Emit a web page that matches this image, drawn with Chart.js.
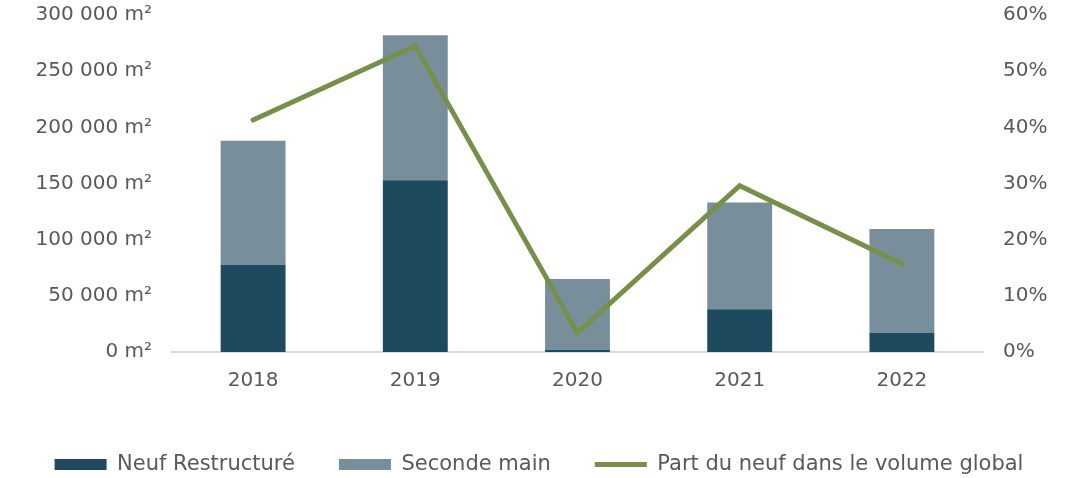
<!DOCTYPE html>
<html>
<head>
<meta charset="utf-8">
<script src="https://cdn.jsdelivr.net/npm/chart.js@4"></script>
<style>
  html, body { margin: 0; padding: 0; background: #fff; }
  #wrap { width: 1078px; height: 478px; }
</style>
</head>
<body>
<div id="wrap"><canvas id="chart"></canvas></div>
<script>
// données
const years = ["2018", "2019", "2020", "2021", "2022"];
const neufRestructure = [77500, 153000, 2000, 38000, 17000];
const secondeMain = [110500, 129000, 63000, 95000, 92500];
const partNeuf = [41.3, 54.5, 3.4, 29.6, 15.7];

const grey = "#595959";
const font = { family: "DejaVu Sans", size: 20 };
const legendFont = { family: "DejaVu Sans", size: 21 };

function fmtM2(v) {
  return String(v).replace(/\B(?=(\d{3})+(?!\d))/g, " ") + " m²";
}

// axe vertical : largeur fixe, pas de marge auto en haut
function fixY(width) {
  return (s) => {
    s.width = width;
    s.paddingTop = 0;
    s.paddingBottom = 0;
  };
}

new Chart(document.getElementById("chart"), {
  data: {
    labels: years,
    datasets: [
      {
        type: "bar",
        label: "Neuf Restructuré",
        data: neufRestructure,
        backgroundColor: "#1d4a5e",
        borderWidth: 0,
        pointStyle: "rect",
        yAxisID: "y",
        order: 1,
        barPercentage: 0.4,
        categoryPercentage: 1,
      },
      {
        type: "bar",
        label: "Seconde main",
        data: secondeMain,
        backgroundColor: "#788f9b",
        borderWidth: 0,
        pointStyle: "rect",
        yAxisID: "y",
        order: 1,
        barPercentage: 0.4,
        categoryPercentage: 1,
      },
      {
        type: "line",
        label: "Part du neuf dans le volume global",
        data: partNeuf,
        borderColor: "#76904a",
        backgroundColor: "#76904a",
        borderWidth: 5,
        borderCapStyle: "round",
        pointRadius: 0,
        pointStyle: "line",
        tension: 0,
        yAxisID: "y1",
        order: 0,
      },
    ],
  },
  options: {
    responsive: true,
    maintainAspectRatio: false,
    animation: false,
    layout: { padding: { top: 15, bottom: -7, left: 0, right: 0 } },
    plugins: {
      tooltip: { enabled: false },
      legend: {
        position: "bottom",
        labels: {
          color: grey,
          font: legendFont,
          usePointStyle: true,
          pointStyleWidth: 52,
          boxHeight: 11,
          padding: 44,
          sort: (a, b) => a.datasetIndex - b.datasetIndex,
        },
      },
    },
    scales: {
      x: {
        stacked: true,
        grid: { display: false, drawTicks: false },
        border: { display: true, color: "#d9d9d9", width: 2 },
        ticks: { color: grey, font: font, padding: 17 },
        afterFit: (s) => { s.height = 58; },
      },
      y: {
        stacked: true,
        position: "left",
        min: 0,
        max: 300000,
        grid: { display: false, drawTicks: false },
        border: { display: false },
        ticks: { stepSize: 50000, color: grey, font: font, padding: 20, callback: fmtM2 },
        afterFit: fixY(172),
      },
      y1: {
        position: "right",
        min: 0,
        max: 60,
        grid: { display: false, drawTicks: false },
        border: { display: false },
        ticks: { stepSize: 10, color: grey, font: font, padding: 20, callback: (v) => v + "%" },
        afterFit: fixY(95),
      },
    },
  },
});
</script>
</body>
</html>
